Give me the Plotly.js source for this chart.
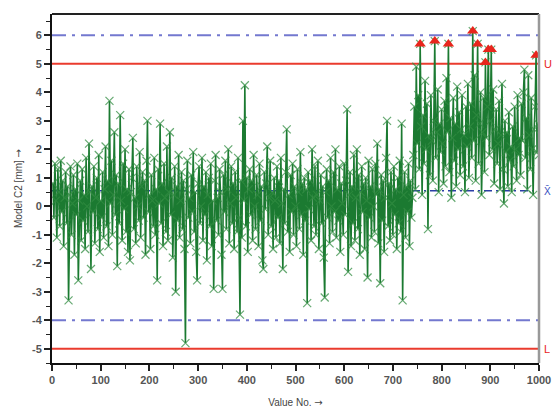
<!DOCTYPE html>
<html>
<head>
<meta charset="utf-8">
<script src="https://cdn.plot.ly/plotly-3.0.1.min.js"></script>
<style>html,body{margin:0;padding:0;background:#fff;}#chart{width:554px;height:418px;}</style>
</head>
<body>
<div id="chart"></div>
<script>
// Value No. step between stored samples (every second value)
const valueStep = 2;
// Model C2 [mm], first phase (values 2..740)
const phaseA = [
 0.8,-0.4,1.5,0.2,-1.1,1.3,0.5,-0.7,1.6,-0.2,
 0.9,-1.4,0.3,1.2,-0.6,0.7,-3.3,0.4,1.4,-1.0,
 0.1,1.1,-1.7,0.6,-0.3,1.5,-2.6,0.2,0.9,-1.2,
 1.3,-0.5,0.4,-1.5,1.7,0.0,-0.9,2.2,0.5,-2.2,
 0.7,-0.2,1.4,-1.3,0.3,1.0,-0.8,1.8,-1.6,0.2,
 -0.4,1.2,-1.1,0.6,2.1,-0.7,0.9,-1.4,3.7,0.1,
 1.6,-1.0,0.4,2.6,-0.3,1.1,-2.1,0.8,-0.6,3.2,
 0.2,-1.2,1.5,-0.1,2.0,-0.9,0.6,-1.6,1.3,-1.9,
 0.5,1.0,2.4,-0.8,0.3,-1.3,1.4,0.0,-0.5,1.9,
 -1.1,0.7,1.2,-0.4,0.9,-1.7,1.6,3.0,-0.2,0.4,
 -1.5,1.1,0.2,-0.7,1.7,-1.0,0.6,-2.6,1.3,0.1,
 2.9,-0.6,0.8,-1.4,1.5,0.3,-0.9,2.1,-1.2,0.5,
 2.6,-0.3,1.0,-1.8,0.4,1.4,-3.0,0.7,-0.5,1.8,
 -1.1,0.2,1.2,-0.8,0.9,-1.5,-4.8,0.6,1.6,-0.4,
 0.3,-1.3,1.1,-0.2,1.9,-0.9,0.5,-1.6,-2.6,0.8,
 1.4,-0.6,0.0,1.7,-1.2,0.7,-0.3,1.2,-1.9,0.4,
 1.0,-0.7,1.5,-1.4,0.2,-2.9,0.9,1.8,-0.5,0.3,
 -1.0,1.3,0.5,-1.7,-2.9,1.1,-0.2,1.6,-0.8,0.6,
 2.0,-1.3,0.1,1.4,-0.6,0.8,-1.5,1.2,0.3,-0.9,
 1.7,-0.4,-3.8,0.9,-1.1,3.0,0.2,4.25,-0.7,1.0,
 -1.6,0.6,1.3,-0.3,0.9,-1.2,1.8,0.0,-0.8,1.1,
 0.4,-1.4,1.5,-0.5,0.7,-1.9,-2.2,1.2,-0.1,0.8,
 2.1,-1.0,0.3,1.6,-0.7,0.5,-1.5,1.0,0.2,-1.1,
 1.4,-0.4,0.9,-1.3,1.7,0.1,-2.2,0.6,-0.6,1.2,
 2.7,-0.9,0.4,-1.6,1.1,-0.2,1.5,-1.0,0.7,0.0,
 -1.4,1.3,0.5,-0.8,1.9,-0.3,0.8,-1.7,1.0,-0.5,
 0.6,-3.4,1.2,-0.1,0.9,-1.2,2.0,0.3,-0.7,1.4,
 -1.0,0.4,1.6,-1.5,0.2,1.1,-0.6,0.7,-1.8,-3.2,
 0.5,1.3,-0.4,0.9,-1.3,1.7,0.0,-0.9,1.2,-0.2,
 2.0,-1.1,0.6,-0.5,1.4,-1.6,0.8,0.1,-1.0,1.5,
 -0.3,0.9,3.4,-2.3,0.4,1.2,-1.4,0.7,-0.6,1.8,
 -1.2,0.3,2.0,-0.8,1.1,-1.7,0.5,1.4,-0.2,0.8,
 -1.5,1.0,0.2,-2.5,1.6,-0.4,0.7,-1.1,1.3,0.0,
 -0.9,1.5,0.4,2.2,-1.3,0.6,-2.7,1.1,-0.5,0.9,
 -1.6,0.3,1.7,3.0,-0.7,0.8,-1.2,1.2,0.1,-1.0,
 1.4,-0.3,0.6,-1.5,1.0,-0.6,1.6,-0.9,2.9,-3.3,
 0.4,1.2,-1.1,0.7,-0.2,1.5,-1.4,0.9,-0.4,0.3
];
// Model C2 [mm], second phase after the shift (values 742..1000)
const phaseB = [
 1.8,3.5,0.6,4.9,2.2,3.9,1.3,5.7,2.8,0.4,
 3.2,1.5,4.4,2.0,3.6,-0.8,2.5,1.1,3.9,2.3,
 0.9,3.0,5.8,1.7,2.6,4.1,0.5,2.9,1.9,3.4,
 2.2,0.8,3.7,1.4,4.5,2.6,5.7,1.2,3.1,0.3,
 2.4,3.8,1.6,2.9,0.7,4.2,2.0,3.3,1.1,2.7,
 3.9,1.4,2.5,0.5,3.5,2.1,4.3,1.0,2.8,3.6,
 1.7,6.15,2.3,4.6,0.9,3.2,5.7,1.5,2.9,4.0,
 0.4,2.6,3.8,1.2,5.05,2.4,3.5,5.5,1.8,3.0,
 5.5,2.0,4.1,0.8,2.7,3.4,1.5,2.2,3.7,0.6,
 2.5,4.3,1.3,0.1,3.0,1.9,2.6,0.7,3.3,1.6,
 2.1,0.5,2.8,1.4,3.5,2.0,0.9,3.9,1.8,2.4,
 1.1,3.6,2.3,4.0,4.8,1.7,3.1,0.6,4.6,2.5,
 1.3,3.8,2.0,0.4,2.7,3.5,5.3,1.9,2.9,1.8
];
// Limits
const upperTol = 5;      // U
const lowerTol = -5;     // L
const meanX = 0.55;      // x-bar
const upperCtl = 6;
const lowerCtl = -4;
const xTicks = [0,100,200,300,400,500,600,700,800,900,1000];
const yTicks = [-5,-4,-3,-2,-1,0,1,2,3,4,5,6];

const values = phaseA.concat(phaseB);
const valueNo = values.map((v, i) => (i + 1) * valueStep);
const outX = [], outY = [];
values.forEach((v, i) => { if (v > upperTol) { outX.push(valueNo[i]); outY.push(v); } });

const font = 'Arial, "Liberation Sans", sans-serif';
const arrowFont = '"DejaVu Sans", Arial, sans-serif';

const traces = [
  {
    x: valueNo, y: values, type: 'scatter', mode: 'lines+markers',
    line: {color: '#1b7a31', width: 1.6},
    marker: {symbol: 'x-thin', size: 8, line: {width: 1.2, color: 'rgba(50,140,65,0.75)'}},
    hoverinfo: 'skip', showlegend: false
  },
  {
    x: outX, y: outY, type: 'scatter', mode: 'markers',
    marker: {symbol: 'triangle-up', size: 10, color: '#e8251c'},
    hoverinfo: 'skip', showlegend: false
  }
];

function hline(y, color, width, dash) {
  return {type: 'line', xref: 'paper', x0: 0, x1: 1, yref: 'y', y0: y, y1: y,
          line: {color: color, width: width, dash: dash}, layer: 'below'};
}

const layout = {
  width: 554, height: 418,
  margin: {l: 52, r: 15, t: 14, b: 55},
  paper_bgcolor: '#fff', plot_bgcolor: '#fff',
  font: {family: font, color: '#444', size: 11},
  xaxis: {
    range: [0, 1000], tickvals: xTicks, ticktext: xTicks.map(String),
    ticks: 'outside', ticklen: 6, tickwidth: 2, tickcolor: '#222',
    minor: {dtick: 50, tick0: 0, ticks: 'outside', ticklen: 4, tickwidth: 1, tickcolor: '#222'},
    showline: true, linecolor: '#111', linewidth: 2,
    showgrid: false, zeroline: false,
    tickfont: {family: font, size: 11, color: '#555', weight: 'bold'},
    title: {text: 'Value No. <span style="font-family:DejaVu Sans">→</span>', font: {family: font, size: 10, color: '#444'}, standoff: 14}
  },
  yaxis: {
    range: [-5.5, 6.75], tickvals: yTicks, ticktext: yTicks.map(String),
    ticks: 'outside', ticklen: 6, tickwidth: 2, tickcolor: '#222',
    minor: {dtick: 0.5, tick0: 0, ticks: 'outside', ticklen: 4, tickwidth: 1, tickcolor: '#222'},
    showline: true, linecolor: '#111', linewidth: 2,
    showgrid: false, zeroline: false,
    tickfont: {family: font, size: 11, color: '#555', weight: 'bold'},
    title: {text: 'Model C2 [mm] <span style="font-family:DejaVu Sans">→</span>', font: {family: font, size: 10, color: '#444'}, standoff: 8}
  },
  shapes: [
    hline(upperCtl, '#7378cf', 2, '14px,6px,3px,6px'),
    hline(lowerCtl, '#7378cf', 2, '14px,6px,3px,6px'),
    hline(upperTol, '#ea3b2e', 2, 'solid'),
    hline(lowerTol, '#ea3b2e', 2, 'solid'),
    hline(meanX, '#2b3fa6', 1.5, '8px,4px,2px,4px'),
    {type: 'line', xref: 'paper', yref: 'paper', x0: 0, x1: 1, y0: 1, y1: 1, line: {color: '#222', width: 2}},
    {type: 'line', xref: 'paper', yref: 'paper', x0: 1, x1: 1, y0: 0, y1: 1, line: {color: '#999', width: 2.5}}
  ],
  annotations: [
    {xref: 'paper', x: 1, xanchor: 'left', xshift: 3, yref: 'y', y: upperTol, text: 'U', showarrow: false, font: {family: font, size: 11, color: '#e8251c'}},
    {xref: 'paper', x: 1, xanchor: 'left', xshift: 3, yref: 'y', y: lowerTol, text: 'L', showarrow: false, font: {family: font, size: 11, color: '#e8251c'}},
    {xref: 'paper', x: 1, xanchor: 'left', xshift: 3, yref: 'y', y: meanX, text: 'X̄', showarrow: false, font: {family: font, size: 10, color: '#3a4fc0'}}
  ]
};

Plotly.newPlot('chart', traces, layout, {displayModeBar: false, staticPlot: true});
</script>
</body>
</html>
